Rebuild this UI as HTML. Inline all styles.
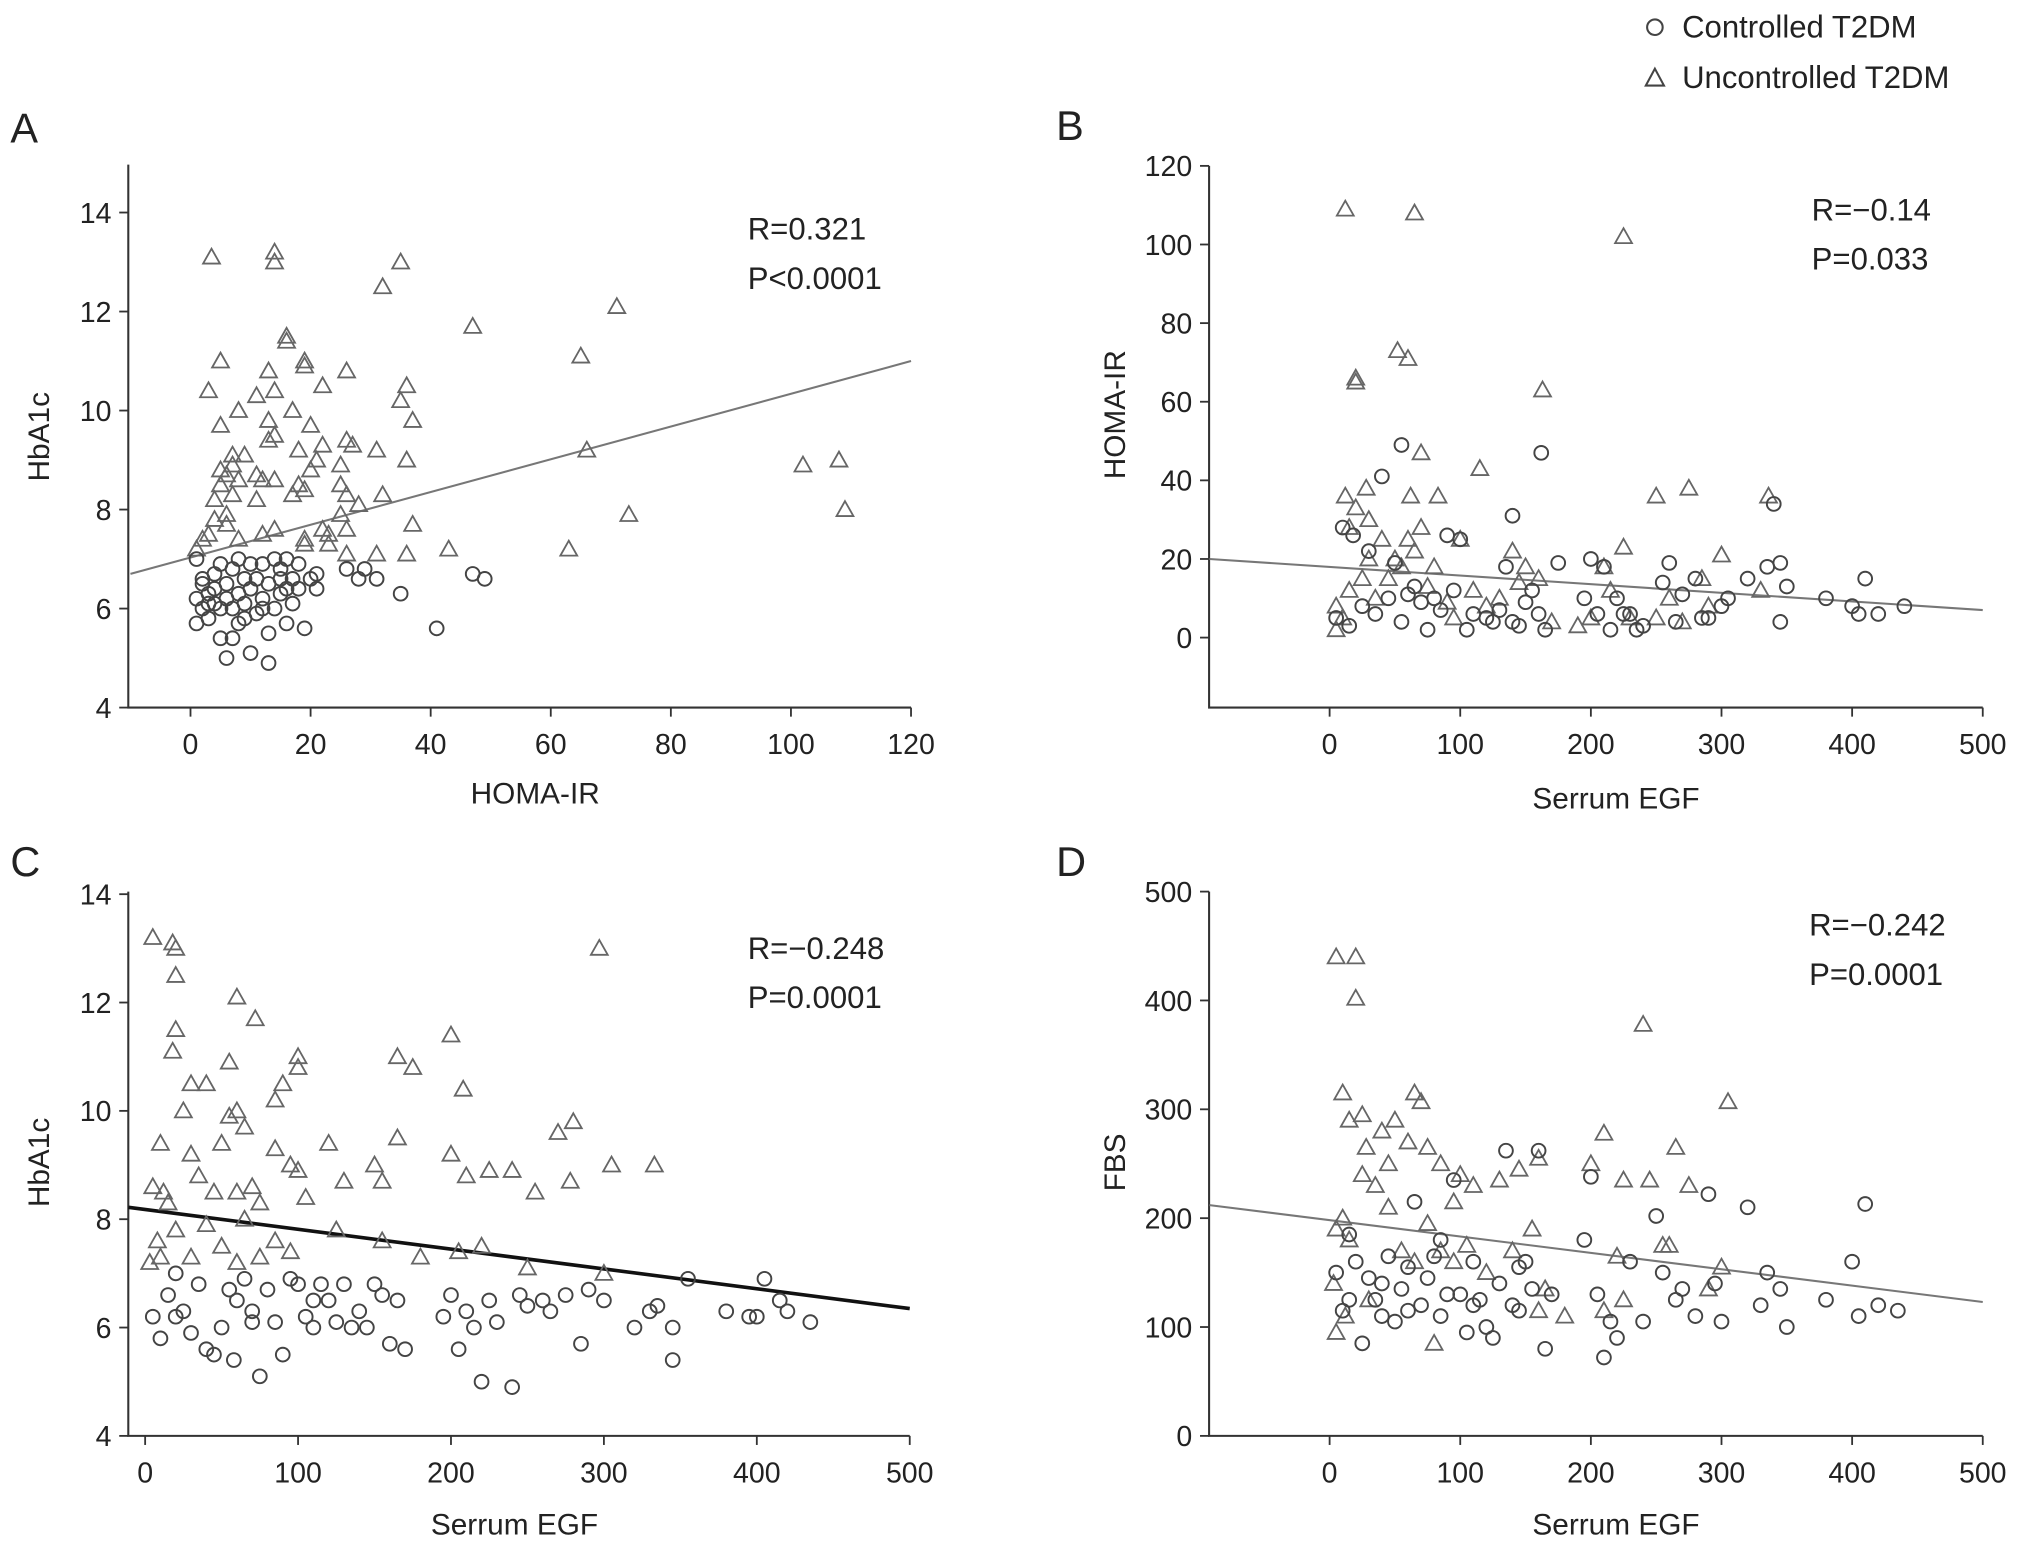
<!DOCTYPE html>
<html><head><meta charset="utf-8"><style>
html,body{margin:0;padding:0;background:#fff}
svg{display:block}
text{font-family:"Liberation Sans",Arial,sans-serif;fill:#222}
</style></head><body>
<svg id="fig" xmlns="http://www.w3.org/2000/svg" width="2032" height="1552" viewBox="0 0 1568 1197.6" preserveAspectRatio="none">
<g>
<circle cx="1277" cy="21" r="6" fill="none" stroke="#444" stroke-width="1.6"/>
<text x="1298" y="29" font-size="24">Controlled T2DM</text>
<path d="M1277,53 L1284,66 L1270,66 Z" fill="none" stroke="#444" stroke-width="1.6"/>
<text x="1298" y="68" font-size="24">Uncontrolled T2DM</text>
</g>
</svg>
<script>
// Panel A: HOMA-IR vs HbA1c
const aCtrl=[[1,6.2],[1,5.7],[2,6.5],[2,6.0],[3,6.3],[3,5.8],[4,6.7],[4,6.1],[5,5.4],[5,6.9],[6,6.2],[6,5.0],[6,6.5],[7,5.4],[7,6.8],[7,6.0],[8,6.3],[8,7.0],[8,5.7],[9,6.6],[9,6.1],[10,5.1],[10,6.9],[10,6.4],[11,5.9],[11,6.6],[12,6.2],[12,6.9],[13,4.9],[13,5.5],[13,6.5],[14,6.0],[14,7.0],[15,6.3],[15,6.8],[16,5.7],[16,6.4],[17,6.1],[18,6.9],[18,6.4],[19,5.6],[20,6.6],[21,6.4],[21,6.7],[26,6.8],[28,6.6],[29,6.8],[31,6.6],[35,6.3],[41,5.6],[47,6.7],[49,6.6],[1,7.0],[2,6.6],[3,6.1],[4,6.4],[5,6.0],[9,5.8],[12,6.0],[15,6.6],[16,7.0],[17,6.6]];
const aUnc=[[3.5,13.1],[14,13.2],[14,13.0],[35,13.0],[32,12.5],[71,12.1],[47,11.7],[16,11.5],[16,11.4],[5,11.0],[19,11.0],[19,10.9],[65,11.1],[13,10.8],[26,10.8],[3,10.4],[11,10.3],[14,10.4],[22,10.5],[36,10.5],[35,10.2],[8,10.0],[17,10.0],[5,9.7],[13,9.8],[20,9.7],[14,9.5],[37,9.8],[13,9.4],[18,9.2],[7,9.1],[9,9.1],[22,9.3],[26,9.4],[27,9.3],[31,9.2],[36,9.0],[66,9.2],[102,8.9],[108,9.0],[109,8.0],[73,7.9],[63,7.2],[43,7.2],[36,7.1],[31,7.1],[26,7.1],[5,8.8],[6,8.7],[11,8.7],[12,8.6],[14,8.6],[18,8.5],[19,8.4],[20,8.8],[21,9.0],[25,8.9],[25,8.5],[26,8.3],[28,8.1],[32,8.3],[4,8.2],[7,8.3],[11,8.2],[6,7.9],[4,7.8],[6,7.7],[8,7.4],[12,7.5],[14,7.6],[2,7.4],[3,7.5],[1,7.2],[19,7.4],[19,7.3],[22,7.6],[23,7.5],[23,7.3],[25,7.9],[37,7.7],[26,7.6],[5,8.5],[17,8.3],[7,8.9],[8,8.6]];
const aXTicks=[0,20,40,60,80,100,120];
const aYTicks=[4,6,8,10,12,14];
const aFit=[[-10,6.7],[120,11.0]];
// Panel B: Serum EGF vs HOMA-IR
const bCtrl=[[40,41],[55,49],[162,47],[140,31],[340,34],[10,28],[18,26],[30,22],[50,19],[60,11],[70,9],[80,10],[90,26],[100,25],[110,6],[120,5],[130,7],[140,4],[150,9],[160,6],[165,2],[200,20],[210,18],[220,10],[230,6],[240,3],[255,14],[260,19],[270,11],[280,15],[290,5],[300,8],[320,15],[335,18],[345,19],[350,13],[380,10],[400,8],[410,15],[420,6],[440,8],[5,5],[15,3],[25,8],[35,6],[45,10],[55,4],[65,13],[75,2],[85,7],[95,12],[105,2],[125,4],[135,18],[145,3],[155,12],[175,19],[195,10],[205,6],[215,2],[225,6],[235,2],[265,4],[285,5],[305,10],[345,4],[405,6]];
const bUnc=[[12,109],[65,108],[225,102],[52,73],[60,71],[20,66],[20,65],[163,63],[70,47],[12,36],[28,38],[62,36],[83,36],[115,43],[250,36],[275,38],[336,36],[300,21],[225,23],[15,28],[20,33],[30,30],[40,25],[50,20],[70,28],[100,25],[140,22],[150,18],[5,2],[10,5],[25,15],[35,10],[45,15],[55,18],[65,22],[75,13],[90,9],[110,12],[130,10],[160,15],[200,5],[210,18],[230,5],[250,5],[270,4],[260,10],[290,8],[330,12],[5,8],[15,12],[30,20],[60,25],[80,18],[95,5],[120,8],[145,14],[170,4],[190,3],[215,12],[285,15]];
const bXTicks=[0,100,200,300,400,500];
const bYTicks=[0,20,40,60,80,100,120];
const bFit=[[-92,20],[500,7]];
// Panel C: Serum EGF vs HbA1c
const cCtrl=[[5,6.2],[10,5.8],[15,6.6],[20,7.0],[25,6.3],[30,5.9],[35,6.8],[40,5.6],[45,5.5],[50,6.0],[55,6.7],[58,5.4],[60,6.5],[65,6.9],[70,6.3],[75,5.1],[80,6.7],[85,6.1],[90,5.5],[95,6.9],[100,6.8],[105,6.2],[110,6.0],[115,6.8],[120,6.5],[125,6.1],[130,6.8],[135,6.0],[140,6.3],[145,6.0],[150,6.8],[155,6.6],[160,5.7],[165,6.5],[170,5.6],[195,6.2],[200,6.6],[205,5.6],[210,6.3],[215,6.0],[220,5.0],[225,6.5],[230,6.1],[240,4.9],[245,6.6],[250,6.4],[260,6.5],[265,6.3],[275,6.6],[285,5.7],[290,6.7],[300,6.5],[320,6.0],[330,6.3],[345,5.4],[345,6.0],[355,6.9],[380,6.3],[395,6.2],[400,6.2],[405,6.9],[415,6.5],[420,6.3],[435,6.1],[335,6.4],[20,6.2],[70,6.1],[110,6.5]];
const cUnc=[[5,13.2],[18,13.1],[20,13.0],[20,12.5],[20,11.5],[18,11.1],[60,12.1],[72,11.7],[297,13.0],[200,11.4],[100,11.0],[100,10.8],[165,11.0],[175,10.8],[208,10.4],[10,9.4],[25,10.0],[30,10.5],[40,10.5],[55,10.9],[65,9.7],[55,9.9],[60,10.0],[50,9.4],[30,9.2],[5,8.6],[15,8.3],[35,8.8],[45,8.5],[60,8.5],[70,8.6],[85,9.3],[95,9.0],[85,10.2],[90,10.5],[100,8.9],[120,9.4],[130,8.7],[150,9.0],[155,8.7],[165,9.5],[200,9.2],[210,8.8],[225,8.9],[240,8.9],[255,8.5],[270,9.6],[280,9.8],[278,8.7],[305,9.0],[333,9.0],[8,7.6],[10,7.3],[20,7.8],[30,7.3],[40,7.9],[50,7.5],[60,7.2],[75,7.3],[85,7.6],[95,7.4],[105,8.4],[125,7.8],[155,7.6],[180,7.3],[205,7.4],[220,7.5],[250,7.1],[300,7.0],[3,7.2],[12,8.5],[75,8.3],[65,8.0]];
const cXTicks=[0,100,200,300,400,500];
const cYTicks=[4,6,8,10,12,14];
const cFit=[[-11,8.22],[500,6.35]];
// Panel D: Serum EGF vs FBS
const dCtrl=[[5,150],[10,115],[15,185],[20,160],[25,85],[30,145],[35,125],[40,110],[45,165],[50,105],[55,135],[60,155],[65,215],[70,120],[75,145],[80,165],[85,110],[90,130],[95,235],[100,130],[105,95],[110,120],[115,125],[120,100],[125,90],[130,140],[135,262],[140,120],[145,155],[150,160],[155,135],[160,262],[165,80],[170,130],[195,180],[200,238],[205,130],[210,72],[215,105],[220,90],[230,160],[240,105],[250,202],[255,150],[265,125],[270,135],[280,110],[290,222],[295,140],[300,105],[320,210],[330,120],[335,150],[345,135],[350,100],[380,125],[400,160],[405,110],[410,213],[420,120],[435,115],[15,125],[40,140],[60,115],[85,180],[110,160],[145,115]];
const dUnc=[[5,440],[20,440],[20,402],[240,378],[305,307],[10,315],[65,315],[70,307],[25,295],[50,290],[15,290],[40,280],[60,270],[75,265],[85,250],[100,240],[110,230],[130,235],[145,245],[160,255],[200,250],[210,278],[225,235],[245,235],[265,265],[275,230],[300,155],[5,190],[10,200],[15,180],[25,240],[35,230],[45,210],[55,170],[65,160],[75,195],[85,170],[95,160],[105,175],[120,150],[140,170],[155,190],[165,135],[180,110],[210,115],[220,165],[260,175],[290,135],[5,95],[12,110],[30,125],[80,85],[160,115],[225,125],[255,175],[3,140],[28,265],[45,250],[95,215]];
const dXTicks=[0,100,200,300,400,500];
const dYTicks=[0,100,200,300,400,500];
const dFit=[[-92,212],[500,123]];

const NS='http://www.w3.org/2000/svg';
const svg=document.getElementById('fig');
function mk(tag,attrs,parent){const e=document.createElementNS(NS,tag);for(const k in attrs)e.setAttribute(k,attrs[k]);parent.appendChild(e);return e;}

const panels=[
 {id:'a',letter:'A',ctrl:aCtrl,unc:aUnc,xt:aXTicks,yt:aYTicks,fit:aFit,fitW:1.6,fitC:'#777',
  px0:147,px1:703,dx0:0,dx1:120,py0:546,py1:164,dy0:4,dy1:14,axL:99,axB:546,axTop:127,axR:703,
  xt_title:'HOMA-IR',yt_title:'HbA1c',r:['R=0.321','P<0.0001'],rx:577,ry:185,lx:8,ly:110,xtx:413,xty:620,ytx:38,yty:337},
 {id:'b',letter:'B',ctrl:bCtrl,unc:bUnc,xt:bXTicks,yt:bYTicks,fit:bFit,fitW:1.6,fitC:'#777',
  px0:1026,px1:1530,dx0:0,dx1:500,py0:492,py1:128,dy0:0,dy1:120,axL:933,axB:546,axTop:128,axR:1530,
  xt_title:'Serrum EGF',yt_title:'HOMA-IR',r:['R=\u22120.14','P=0.033'],rx:1398,ry:170,lx:815,ly:108,xtx:1247,xty:624,ytx:868,yty:320},
 {id:'c',letter:'C',ctrl:cCtrl,unc:cUnc,xt:cXTicks,yt:cYTicks,fit:cFit,fitW:2.8,fitC:'#111',
  px0:112,px1:702,dx0:0,dx1:500,py0:1108,py1:690,dy0:4,dy1:14,axL:99,axB:1108,axTop:688,axR:702,
  xt_title:'Serrum EGF',yt_title:'HbA1c',r:['R=\u22120.248','P=0.0001'],rx:577,ry:740,lx:8,ly:676,xtx:397,xty:1184,ytx:38,yty:897},
 {id:'d',letter:'D',ctrl:dCtrl,unc:dUnc,xt:dXTicks,yt:dYTicks,fit:dFit,fitW:1.6,fitC:'#777',
  px0:1026,px1:1530,dx0:0,dx1:500,py0:1108,py1:688,dy0:0,dy1:500,axL:933,axB:1108,axTop:688,axR:1530,
  xt_title:'Serrum EGF',yt_title:'FBS',r:['R=\u22120.242','P=0.0001'],rx:1396,ry:722,lx:815,ly:676,xtx:1247,xty:1184,ytx:868,yty:897}
];

panels.forEach(p=>{
 const xs=v=>p.px0+(v-p.dx0)*(p.px1-p.px0)/(p.dx1-p.dx0);
 const ys=v=>p.py0+(v-p.dy0)*(p.py1-p.py0)/(p.dy1-p.dy0);
 const g=mk('g',{},svg);
 
 
 const L=mk('text',{x:p.lx,y:p.ly,'font-size':32},g);L.textContent=p.letter;
 
 
 const ax=mk('path',{d:`M${p.axL},${p.axTop} L${p.axL},${p.axB} L${p.axR},${p.axB}`,fill:'none',stroke:'#333','stroke-width':1.6},g);
 
 
 p.xt.forEach(v=>{
  const X=xs(v);
  mk('line',{x1:X,x2:X,y1:p.axB,y2:p.axB+7,stroke:'#333','stroke-width':1.4},g);
  const t=mk('text',{x:X,y:p.axB+36,'font-size':22,'text-anchor':'middle'},g);t.textContent=v;
  
  
 });
 p.yt.forEach(v=>{
  const Y=ys(v);
  mk('line',{x1:p.axL-7,x2:p.axL,y1:Y,y2:Y,stroke:'#333','stroke-width':1.4},g);
  const t=mk('text',{x:p.axL-13,y:Y+8,'font-size':22,'text-anchor':'end'},g);t.textContent=v;
  
  
 });
 const xt=mk('text',{x:p.xtx,y:p.xty,'font-size':23,'text-anchor':'middle'},g);xt.textContent=p.xt_title;
 
 
 const yt=mk('text',{x:p.ytx,y:p.yty,'font-size':23,'text-anchor':'middle',transform:`rotate(-90 ${p.ytx} ${p.yty})`},g);yt.textContent=p.yt_title;
 
 
 p.r.forEach((s,i)=>{const t=mk('text',{x:p.rx,y:p.ry+i*38,'font-size':24},g);t.textContent=s;
  
  });
 const fl=mk('line',{x1:xs(p.fit[0][0]),y1:ys(p.fit[0][1]),x2:xs(p.fit[1][0]),y2:ys(p.fit[1][1]),stroke:p.fitC,'stroke-width':p.fitW},g);
 
 
 p.unc.forEach(d=>{
  const X=xs(d[0]),Y=ys(d[1]);
  const e=mk('path',{d:`M${X},${Y-6.5} L${X+6.5},${Y+5} L${X-6.5},${Y+5} Z`,fill:'none',stroke:'#666','stroke-width':1.4},g);
  
  
 });
 p.ctrl.forEach(d=>{
  const e=mk('circle',{cx:xs(d[0]),cy:ys(d[1]),r:5.3,fill:'none',stroke:'#444','stroke-width':1.5},g);
  
  
 });
});
</script>
</body></html>
